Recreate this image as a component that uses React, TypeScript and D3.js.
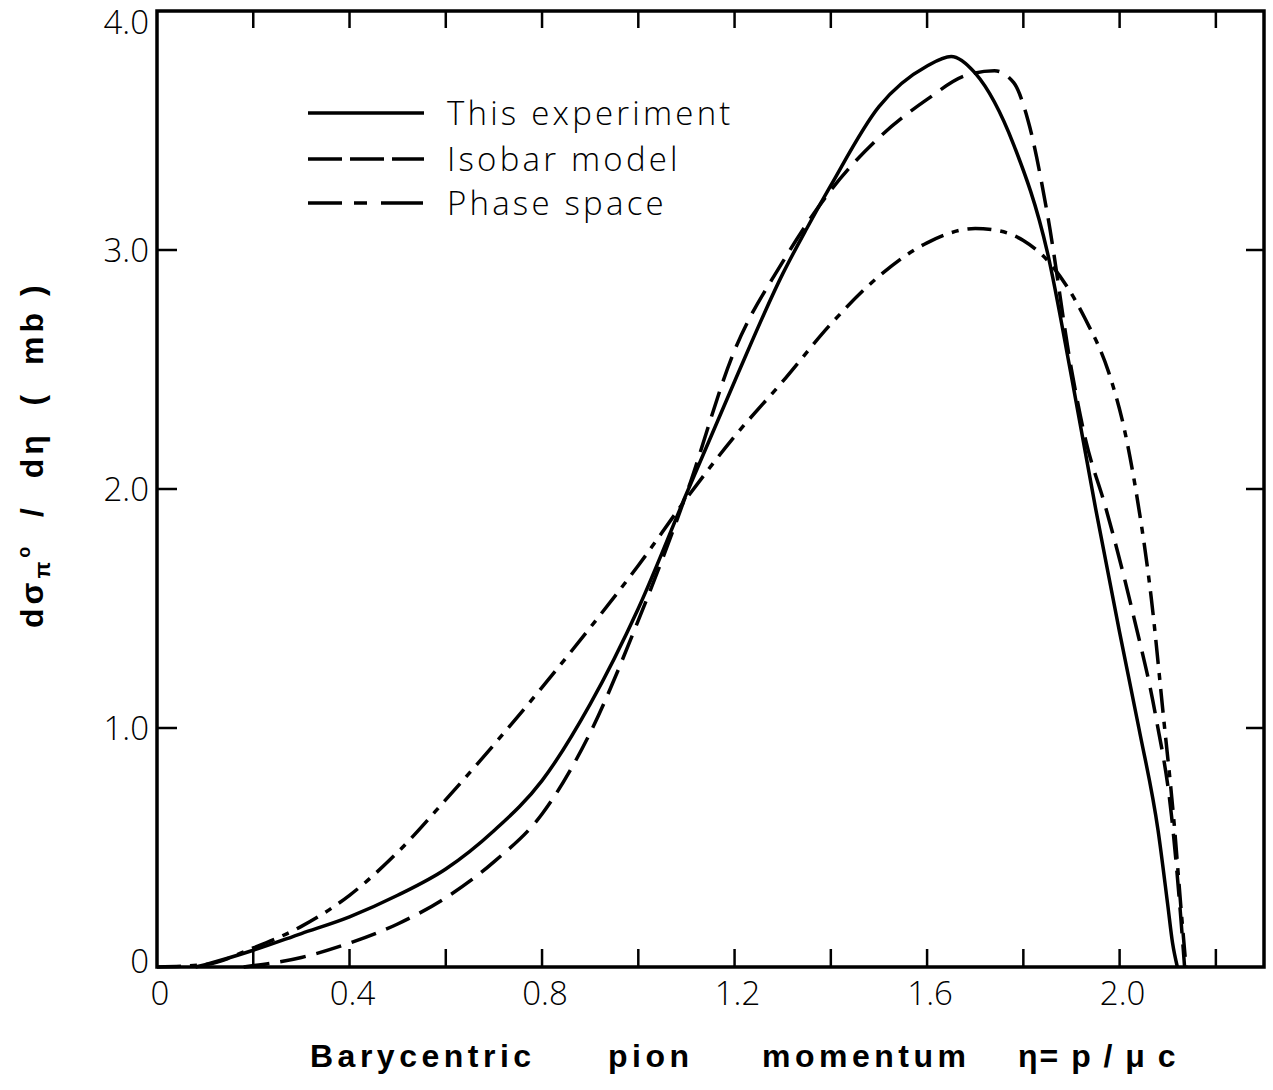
import React from "react";
import * as d3 from "d3";

// measured curves, eta (p / mu c) vs d sigma / d eta (mb)
const expEta = [0.08, 0.1, 0.2, 0.3, 0.4, 0.5, 0.6, 0.7, 0.8, 0.9, 1.0, 1.1, 1.2, 1.3, 1.35, 1.4, 1.5, 1.6, 1.65, 1.7, 1.78, 1.85, 1.9, 1.95, 2.0, 2.04, 2.08, 2.1, 2.11, 2.12];
const expSigma = [0, 0.01, 0.07, 0.14, 0.21, 0.3, 0.41, 0.57, 0.78, 1.1, 1.5, 1.98, 2.45, 2.9, 3.09, 3.27, 3.6, 3.77, 3.81, 3.74, 3.44, 2.99, 2.47, 1.92, 1.4, 1.0, 0.57, 0.26, 0.1, 0.0];

const isoEta = [0.18, 0.3, 0.4, 0.5, 0.6, 0.7, 0.8, 0.9, 1.0, 1.1, 1.2, 1.3, 1.4, 1.5, 1.6, 1.68, 1.74, 1.78, 1.81, 1.85, 1.9, 1.93, 1.97, 2.03, 2.075, 2.108, 2.127, 2.135];
const isoSigma = [0, 0.04, 0.1, 0.18, 0.29, 0.44, 0.64, 0.98, 1.45, 1.98, 2.58, 2.95, 3.25, 3.47, 3.63, 3.73, 3.75, 3.7, 3.54, 3.15, 2.5, 2.2, 1.93, 1.46, 1.05, 0.63, 0.21, 0];

const phaseEta = [0, 0.1, 0.2, 0.3, 0.4, 0.5, 0.6, 0.7, 0.8, 0.9, 1.0, 1.1, 1.2, 1.3, 1.4, 1.5, 1.6, 1.7, 1.75, 1.8, 1.853, 1.929, 1.977, 2.012, 2.035, 2.066, 2.091, 2.112, 2.129, 2.138];
const phaseSigma = [0, 0.01, 0.08, 0.17, 0.3, 0.48, 0.7, 0.93, 1.17, 1.42, 1.68, 1.96, 2.22, 2.45, 2.69, 2.89, 3.03, 3.09, 3.08, 3.04, 2.95, 2.71, 2.49, 2.23, 1.98, 1.54, 1.05, 0.63, 0.21, 0];

const legendLabels = ["This experiment", "Isobar model", "Phase space"];
const xTickValues = [0, 0.4, 0.8, 1.2, 1.6, 2.0];
const xTickLabels = ["0", "0.4", "0.8", "1.2", "1.6", "2.0"];
const xMinorValues = [0.2, 0.4, 0.6, 0.8, 1.0, 1.2, 1.4, 1.6, 1.8, 2.0, 2.2];
const yTickValues = [0, 1, 2, 3, 4];
const yTickLabels = ["0", "1.0", "2.0", "3.0", "4.0"];
const xTitleWords = ["Barycentric", "pion", "momentum", "\u03B7= p / \u03BC c"];
const xTitleStarts = [310, 608, 762, 1018];
const xTitleSpacing = [4.5, 4.5, 4.5, 2];

const W = 1273;
const H = 1090;
const left = 157;
const right = 1264;
const top = 11;
const bottom = 967;

const tickFont = "'Open Sans', 'DejaVu Sans', sans-serif";
const boldFont = "'Liberation Sans', Arial, sans-serif";

export default function App() {
  const x = d3.scaleLinear().domain([0, 2.3]).range([left, right]);
  const y = d3.scaleLinear().domain([0, 4]).range([bottom, top]);

  const line = d3
    .line<[number, number]>()
    .x((d) => x(d[0]))
    .y((d) => y(d[1]))
    .curve(d3.curveMonotoneX);

  const series = [
    { eta: expEta, sigma: expSigma, dash: "none", legendDash: "none" },
    { eta: isoEta, sigma: isoSigma, dash: "26 11", legendDash: "34 8 34 8 40" },
    { eta: phaseEta, sigma: phaseSigma, dash: "24 9 7 9", legendDash: "34 12 13 14 42" },
  ];

  const legendY = [113, 159, 203];

  return (
    <svg
      width={W}
      height={H}
      style={{ position: "absolute", left: 0, top: 0, background: "#fff" }}
    >
      <rect x={0} y={0} width={W} height={H} fill="#fff" />

      {/* frame */}
      <rect
        x={left}
        y={top}
        width={right - left}
        height={bottom - top}
        fill="none"
        stroke="#000"
        strokeWidth={3.5}
      />

      {/* ticks, all pointing inward */}
      {xMinorValues.map((v) => (
        <g key={"xt" + v}>
          <line x1={x(v)} x2={x(v)} y1={bottom} y2={bottom - 18} stroke="#000" strokeWidth={2.5} />
          <line x1={x(v)} x2={x(v)} y1={top} y2={top + 17} stroke="#000" strokeWidth={2.5} />
        </g>
      ))}
      {yTickValues.slice(1, 4).map((v) => (
        <g key={"yt" + v}>
          <line x1={left} x2={left + 20} y1={y(v)} y2={y(v)} stroke="#000" strokeWidth={2.5} />
          <line x1={right} x2={right - 18} y1={y(v)} y2={y(v)} stroke="#000" strokeWidth={2.5} />
        </g>
      ))}

      {/* tick labels */}
      {xTickValues.map((v, i) => (
        <text
          key={"xl" + v}
          x={x(v) + 3}
          y={1005}
          textAnchor="middle"
          fontFamily={tickFont}
          fontWeight={300}
          fontSize={33}
        >
          {xTickLabels[i]}
        </text>
      ))}
      {yTickValues.map((v, i) => (
        <text
          key={"yl" + v}
          x={149}
          y={Math.max(y(v), 22) + (v === 0 ? -6 : 0)}
          dy="0.36em"
          textAnchor="end"
          fontFamily={tickFont}
          fontWeight={300}
          fontSize={33}
        >
          {yTickLabels[i]}
        </text>
      ))}

      {/* curves */}
      {series.map((s, i) => (
        <path
          key={"c" + i}
          d={line(s.eta.map((e, j) => [e, s.sigma[j]] as [number, number])) || ""}
          fill="none"
          stroke="#000"
          strokeWidth={3.5}
          strokeDasharray={s.dash}
          strokeLinejoin="round"
        />
      ))}

      {/* legend */}
      {legendLabels.map((label, i) => (
        <g key={"lg" + i}>
          <line
            x1={308}
            x2={424}
            y1={legendY[i]}
            y2={legendY[i]}
            stroke="#000"
            strokeWidth={3.5}
            strokeDasharray={series[i].legendDash}
          />
          <text
            x={447}
            y={legendY[i]}
            dy="0.36em"
            fontFamily={tickFont}
            fontWeight={300}
            fontSize={33}
            letterSpacing={3.2}
          >
            {label}
          </text>
        </g>
      ))}

      {/* x axis title */}
      <text
        y={1067}
        fontFamily={boldFont}
        fontWeight="bold"
        fontSize={32}
        style={{ whiteSpace: "pre" }}
      >
        {xTitleWords.map((w, i) => (
          <tspan key={"xw" + i} x={xTitleStarts[i]} letterSpacing={xTitleSpacing[i]}>
            {w}
          </tspan>
        ))}
      </text>

      {/* y axis title */}
      <text
        transform="translate(43,628) rotate(-90)"
        fontFamily={boldFont}
        fontWeight="bold"
        fontSize={32}
        letterSpacing={4}
        style={{ whiteSpace: "pre" }}
      >
        {"d\u03C3"}
        <tspan fontSize={22} dy={7}>{"\u03C0"}</tspan>
        <tspan fontSize={18} dy={-20}>{"o"}</tspan>
        <tspan dy={13}>{"  /  d\u03B7  (  mb )"}</tspan>
      </text>
    </svg>
  );
}
